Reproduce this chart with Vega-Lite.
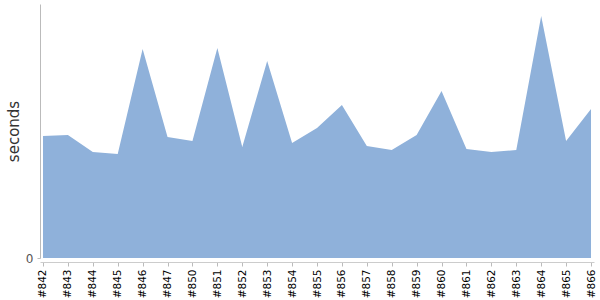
{
  "$schema": "https://vega.github.io/schema/vega-lite/v6.json",
  "width": 554,
  "height": 254,
  "autosize": {"type": "none"},
  "padding": {"left": 40, "top": 4, "right": 6, "bottom": 42},
  "config": {"view": {"stroke": null}, "font": "DejaVu Sans"},
  "data": {"values": [
    {"build": "#842", "seconds": 122},
    {"build": "#843", "seconds": 123},
    {"build": "#844", "seconds": 106},
    {"build": "#845", "seconds": 104},
    {"build": "#846", "seconds": 209},
    {"build": "#847", "seconds": 121},
    {"build": "#850", "seconds": 117},
    {"build": "#851", "seconds": 210},
    {"build": "#852", "seconds": 111},
    {"build": "#853", "seconds": 197},
    {"build": "#854", "seconds": 115},
    {"build": "#855", "seconds": 130},
    {"build": "#856", "seconds": 153},
    {"build": "#857", "seconds": 112},
    {"build": "#858", "seconds": 108},
    {"build": "#859", "seconds": 123},
    {"build": "#860", "seconds": 167},
    {"build": "#861", "seconds": 109},
    {"build": "#862", "seconds": 106},
    {"build": "#863", "seconds": 108},
    {"build": "#864", "seconds": 242},
    {"build": "#865", "seconds": 117},
    {"build": "#866", "seconds": 149}
  ]},
  "mark": {"type": "area", "color": "#8fb1da", "opacity": 1},
  "encoding": {
    "x": {
      "field": "build", "type": "ordinal", "sort": null,
      "scale": {"type": "point", "padding": 0.12},
      "axis": {"title": null, "labelAngle": -90, "labelFontSize": 10.5, "labelColor": "#000", "offset": 4, "domainColor": "#ccc", "tickColor": "#bbb", "tickSize": 4, "labelPadding": 3, "grid": false}
    },
    "y": {
      "field": "seconds", "type": "quantitative",
      "scale": {"domain": [0, 254], "nice": false},
      "axis": {"values": [0], "title": "seconds", "titleFontSize": 15, "titleFontWeight": "normal", "titleColor": "#333", "titlePadding": 4, "labelColor": "#555", "labelFontSize": 12, "labelPadding": 4, "domainColor": "#bbb", "tickColor": "#bbb", "tickSize": 3, "grid": false}
    }
  }
}
